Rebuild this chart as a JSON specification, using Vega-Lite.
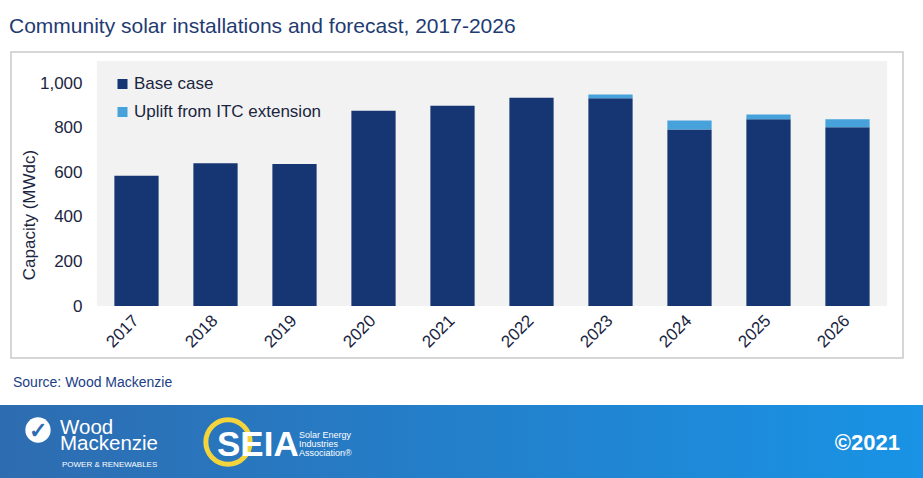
{
  "$schema": "https://vega.github.io/schema/vega-lite/v6.json",
  "autosize": {"type": "pad"},
  "padding": {"left": 0, "top": 16, "right": 0, "bottom": 0},
  "background": "white",
  "title": {"text": "Community solar installations and forecast, 2017-2026", "anchor": "start", "font": "Liberation Sans", "fontSize": 21, "fontWeight": "normal", "color": "#1f3b72", "baseline": "alphabetic", "offset": -3, "dx": 9},
  "datasets": {
    "capacity": [
      {"year": "2017", "series": "Base case", "value": 585},
      {"year": "2018", "series": "Base case", "value": 641},
      {"year": "2019", "series": "Base case", "value": 637},
      {"year": "2020", "series": "Base case", "value": 877},
      {"year": "2021", "series": "Base case", "value": 899},
      {"year": "2022", "series": "Base case", "value": 935},
      {"year": "2023", "series": "Base case", "value": 933},
      {"year": "2024", "series": "Base case", "value": 793},
      {"year": "2025", "series": "Base case", "value": 838},
      {"year": "2026", "series": "Base case", "value": 802},
      {"year": "2017", "series": "Uplift from ITC extension", "value": 0},
      {"year": "2018", "series": "Uplift from ITC extension", "value": 0},
      {"year": "2019", "series": "Uplift from ITC extension", "value": 0},
      {"year": "2020", "series": "Uplift from ITC extension", "value": 0},
      {"year": "2021", "series": "Uplift from ITC extension", "value": 0},
      {"year": "2022", "series": "Uplift from ITC extension", "value": 0},
      {"year": "2023", "series": "Uplift from ITC extension", "value": 17},
      {"year": "2024", "series": "Uplift from ITC extension", "value": 40},
      {"year": "2025", "series": "Uplift from ITC extension", "value": 22},
      {"year": "2026", "series": "Uplift from ITC extension", "value": 36}
    ]
  },
  "bounds": "full",
  "spacing": 17,
  "vconcat": [
    {
      "bounds": "full",
      "spacing": 9,
      "hconcat": [
        {"width": 1, "height": 306, "data": {"values": []}, "mark": "text", "encoding": {}},
        {
          "width": 892,
          "height": 306,
          "data": {"name": "capacity"},
          "view": {"stroke": "#c9c9c9", "strokeWidth": 1.5, "fill": "white"},
          "layer": [
            {
              "mark": {"type": "bar", "color": "#f2f2f2", "width": {"band": 1.79}},
              "encoding": {
                "x": {"field": "year", "type": "nominal",
                      "scale": {"range": [86, 876], "paddingInner": 0.44, "paddingOuter": 0.22},
                      "axis": {"title": null, "offset": -52, "labelAngle": -45, "labelAlign": "right", "labelBaseline": "top", "labelPadding": 6, "labelOffset": -6}},
                "y": {"datum": 0, "type": "quantitative",
                      "scale": {"domain": [0, 1100], "range": [254, 9], "nice": false, "zero": true}},
                "y2": {"datum": 1100}
              }
            },
            {
              "mark": {"type": "bar"},
              "encoding": {
                "x": {"field": "year", "type": "nominal"},
                "y": {"field": "value", "type": "quantitative", "stack": "zero",
                      "axis": {"title": "Capacity (MWdc)", "values": [0, 200, 400, 600, 800, 1000], "format": ",d", "formatType": "number", "offset": -73, "labelPadding": 2, "titleX": -46, "titleY": 162.5, "titleAngle": -90, "titleBaseline": "bottom", "titleAlign": "center"}},
                "color": {"field": "series", "type": "nominal",
                          "scale": {"domain": ["Base case", "Uplift from ITC extension"], "range": ["#153672", "#47a2dc"]},
                          "legend": {"orient": "none", "legendX": 114, "legendY": 23.5, "title": null, "symbolType": "square", "symbolSize": 100, "symbolStrokeWidth": 0, "labelFontSize": 17, "labelFont": "Liberation Sans", "labelColor": "#1a2540", "labelLimit": 0, "rowPadding": 10, "labelOffset": 3, "padding": 0}},
                "order": {"field": "series", "sort": "ascending"}
              }
            }
          ]
        }
      ]
    },
    {
      "width": 923,
      "height": 74,
      "data": {"values": [{}]},
      "view": {"stroke": null, "fill": {"gradient": "linear", "x1": 0, "y1": 0, "x2": 1, "y2": 0, "stops": [{"offset": 0, "color": "#2e6cb0"}, {"offset": 1, "color": "#1993e5"}]}},
      "title": {"text": "Source: Wood Mackenzie", "anchor": "start", "font": "Liberation Sans", "fontSize": 14, "fontWeight": "normal", "color": "#203e86", "baseline": "alphabetic", "offset": 4, "dx": 13, "frame": "group"},
      "layer": [
        {"mark": {"type": "point", "shape": "circle", "filled": true, "color": "white", "size": 640, "x": 38, "y": 25, "opacity": 1}, "encoding": {}},
        {"mark": {"type": "text", "text": "✓", "x": 38, "y": 26, "align": "center", "baseline": "middle", "fontSize": 22, "fontWeight": "bold", "color": "#2e6cb0"}, "encoding": {}},
        {"mark": {"type": "text", "text": ["Wood", "Mackenzie"], "lineHeight": 16, "x": 60, "y": 29, "align": "left", "baseline": "alphabetic", "fontSize": 20.5, "font": "Liberation Sans", "color": "white"}, "encoding": {}},
        {"mark": {"type": "text", "text": "POWER & RENEWABLES", "x": 62, "y": 62, "align": "left", "baseline": "alphabetic", "fontSize": 8, "font": "Liberation Sans", "color": "white"}, "encoding": {}},
        {"mark": {"type": "point", "shape": "circle", "filled": false, "stroke": "#f3d43c", "strokeWidth": 5, "size": 1963, "x": 228, "y": 37, "opacity": 1}, "encoding": {}},
        {"mark": {"type": "text", "text": "SEIA", "x": 217, "y": 51, "align": "left", "baseline": "alphabetic", "fontSize": 35, "fontWeight": "bold", "font": "Liberation Sans", "color": "white"}, "encoding": {}},
        {"mark": {"type": "text", "text": ["Solar Energy", "Industries", "Association®"], "lineHeight": 9, "x": 299, "y": 33, "align": "left", "baseline": "alphabetic", "fontSize": 9, "font": "Liberation Sans", "color": "white"}, "encoding": {}},
        {"mark": {"type": "text", "text": "©2021", "x": 900, "y": 45, "align": "right", "baseline": "alphabetic", "fontSize": 22, "fontWeight": "bold", "font": "Liberation Sans", "color": "white"}, "encoding": {}}
      ]
    }
  ],
  "config": {
    "view": {"stroke": null},
    "font": "Liberation Sans",
    "axis": {"grid": false, "domain": false, "ticks": false, "tickSize": 0, "labelFont": "Liberation Sans", "labelFontSize": 17, "labelColor": "#1a2540", "titleFont": "Liberation Sans", "titleFontSize": 17, "titleFontWeight": "normal", "titleColor": "#1a2540"}
  }
}
